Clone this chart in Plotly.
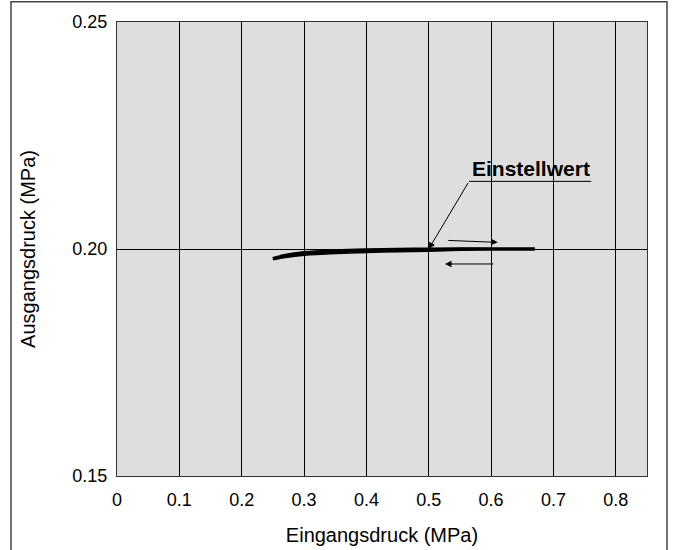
import plotly.graph_objects as go

# Data
x_upper = [0.25, 0.27, 0.30, 0.35, 0.40, 0.45, 0.50, 0.60, 0.67]
y_upper = [0.1979, 0.1986, 0.1992, 0.1996, 0.1998, 0.1999, 0.2000, 0.2000, 0.2000]
x_lower = [0.25, 0.27, 0.30, 0.35, 0.40, 0.45, 0.50, 0.55, 0.60, 0.67]
y_lower = [0.1978, 0.1983, 0.1988, 0.1992, 0.1994, 0.1996, 0.1997, 0.1999, 0.2000, 0.2000]

x_ticks = [0, 0.1, 0.2, 0.3, 0.4, 0.5, 0.6, 0.7, 0.8]
x_ticklabels = ["0", "0.1", "0.2", "0.3", "0.4", "0.5", "0.6", "0.7", "0.8"]
y_ticks = [0.15, 0.20, 0.25]
y_ticklabels = ["0.15", "0.20", "0.25"]

setpoint = (0.5, 0.2)
label_text = "Einstellwert"

FONT = "Liberation Sans, Arial, Helvetica, sans-serif"

fig = go.Figure()
for xs, ys in [(x_upper, y_upper), (x_lower, y_lower)]:
    fig.add_trace(go.Scatter(x=xs, y=ys, mode="lines", line=dict(color="black", width=3.2, shape="spline", smoothing=0.8),
                             showlegend=False, hoverinfo="skip"))

# Annotation arrow to set point
fig.add_annotation(x=setpoint[0], y=setpoint[1], ax=0.5646, ay=0.2149, axref="x", ayref="y",
                   xref="x", yref="y", text="", showarrow=True, arrowhead=2, arrowsize=1.3,
                   arrowwidth=1, arrowcolor="black")
fig.add_shape(type="line", x0=0.5646, x1=0.7605, y0=0.2149, y1=0.2149, xref="x", yref="y",
              line=dict(color="black", width=1))
fig.add_annotation(x=0.664, y=0.2178, xref="x", yref="y", text="<b>" + label_text + "</b>",
                   showarrow=False, font=dict(size=21, color="black", family=FONT))

# Direction arrows
fig.add_annotation(x=0.6106, y=0.20146, ax=0.529, ay=0.2019, axref="x", ayref="y", xref="x", yref="y",
                   text="", showarrow=True, arrowhead=2, arrowsize=1.3, arrowwidth=1, arrowcolor="black")
fig.add_annotation(x=0.526, y=0.1967, ax=0.606, ay=0.1967, axref="x", ayref="y", xref="x", yref="y",
                   text="", showarrow=True, arrowhead=2, arrowsize=1.3, arrowwidth=1, arrowcolor="black")

# Outer frame (no bottom edge)
fig.add_shape(type="path", xref="paper", yref="paper",
              path="M -0.2,-0.2 L -0.2,1.0445 L 1.0377,1.0445 L 1.0377,-0.2",
              line=dict(color="#444", width=1.5))

fig.update_layout(
    width=675, height=550,
    margin=dict(l=117, r=28, t=22, b=74, autoexpand=False),
    paper_bgcolor="white", plot_bgcolor="#dedede",
    font=dict(family=FONT, size=18, color="black"),
    xaxis=dict(range=[0, 0.85], tickvals=x_ticks, ticktext=x_ticklabels, showgrid=True,
               gridcolor="black", gridwidth=1, zeroline=False, showline=True, linecolor="#333",
               linewidth=1, mirror=True, ticks="", tickfont=dict(size=18), ticklabelstandoff=7,
               automargin=False,
               title=dict(text="Eingangsdruck (MPa)", font=dict(size=20), standoff=19)),
    yaxis=dict(range=[0.15, 0.25], tickvals=y_ticks, ticktext=y_ticklabels, showgrid=True,
               gridcolor="black", gridwidth=1, zeroline=False, showline=True, linecolor="#333",
               linewidth=1, mirror=True, ticks="", tickfont=dict(size=18), ticklabelstandoff=5,
               automargin=False,
               title=dict(text="Ausgangsdruck (MPa)", font=dict(size=20), standoff=31)),
)

fig.write_html("out.html", config={"displayModeBar": False},
               post_script="document.body.style.margin='0';")
